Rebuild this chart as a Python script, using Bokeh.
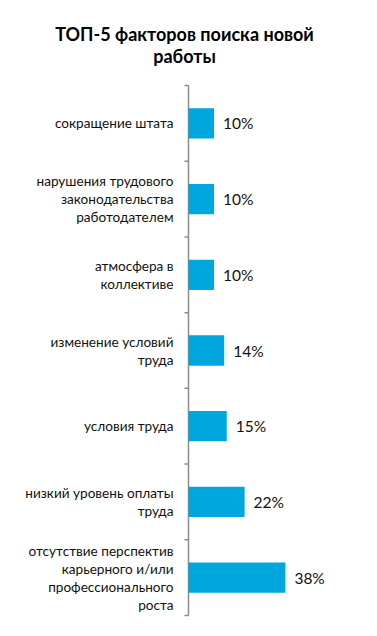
from bokeh.plotting import figure
from bokeh.models import ColumnDataSource, Range1d, Label, LabelSet
from bokeh.core.properties import value
from bokeh.embed import file_html
from bokeh.resources import INLINE

title_lines = ["ТОП-5 факторов поиска новой", "работы"]
categories = [
    "сокращение штата",
    "нарушения трудового\nзаконодательства\nработодателем",
    "атмосфера в\nколлективе",
    "изменение условий\nтруда",
    "условия труда",
    "низкий уровень оплаты\nтруда",
    "отсутствие перспектив\nкарьерного и/или\nпрофессионального\nроста",
]
values = [10, 10, 10, 14, 15, 22, 38]
value_labels = ["10%", "10%", "10%", "14%", "15%", "22%", "38%"]

n = len(categories)
pos = [n - i - 0.5 for i in range(n)]
src = ColumnDataSource(dict(y=pos, v=values, lab=value_labels))

FONT = "Lato"
W, H = 361, 620
# layout in canvas pixels
AX_X, AX_TOP, AX_BOT = 188, 85, 615
PX_PER_PCT = 2.55
TICK = 4
LINE = 18
GREY = "#8c8c8c"

px_per_cat = (AX_BOT - AX_TOP) / n
x_range = Range1d(-AX_X / PX_PER_PCT, (W - AX_X) / PX_PER_PCT)
y_range = Range1d(-(H - AX_BOT) / px_per_cat, n + AX_TOP / px_per_cat)

p = figure(width=W, height=H, output_backend="svg", toolbar_location=None,
           x_range=x_range, y_range=y_range,
           min_border=0, min_border_left=0, min_border_right=0,
           min_border_top=0, min_border_bottom=0)
p.outline_line_color = None
p.grid.visible = False
p.xaxis.visible = False
p.yaxis.visible = False

# category axis line with ticks at band boundaries
p.segment(x0=[0], y0=[0], x1=[0], y1=[n], line_color=GREY, line_width=1.5)
bounds = list(range(n + 1))
p.segment(x0=[-TICK / PX_PER_PCT] * len(bounds), y0=bounds,
          x1=[0] * len(bounds), y1=bounds, line_color=GREY, line_width=1.5)

p.hbar(y="y", left=0, right="v", height=0.4, source=src,
       fill_color="#00A6DE", line_color=None)

p.add_layout(LabelSet(x="v", y="y", text="lab", source=src, x_offset=9,
                      text_align="left", text_baseline="middle",
                      text_font=value(FONT), text_font_size=value("15.5px"),
                      text_color="#111111"))

# category labels, one row per line of text
ly, lt, lo = [], [], []
for yc, cat in zip(pos, categories):
    parts = cat.split("\n")
    m = len(parts)
    for k, part in enumerate(parts):
        ly.append(yc)
        lt.append(part)
        lo.append(((m - 1) / 2 - k) * LINE)
csrc = ColumnDataSource(dict(y=ly, t=lt, off=lo, zero=[0] * len(ly)))
p.add_layout(LabelSet(x="zero", y="y", text="t", source=csrc, x_offset=-15,
                      y_offset="off",
                      text_align="right", text_baseline="middle",
                      text_font=value(FONT), text_font_size=value("13.6px"),
                      text_color="#111111"))

for i, t in enumerate(title_lines):
    p.add_layout(Label(x=184, y=H - 33 - i * 22,
                       x_units="screen", y_units="screen",
                       text=t, text_align="center", text_baseline="middle",
                       text_font=FONT, text_font_size="18px",
                       text_font_style="bold", text_color="#000000"))

open("out.html", "w").write(file_html(p, INLINE))
